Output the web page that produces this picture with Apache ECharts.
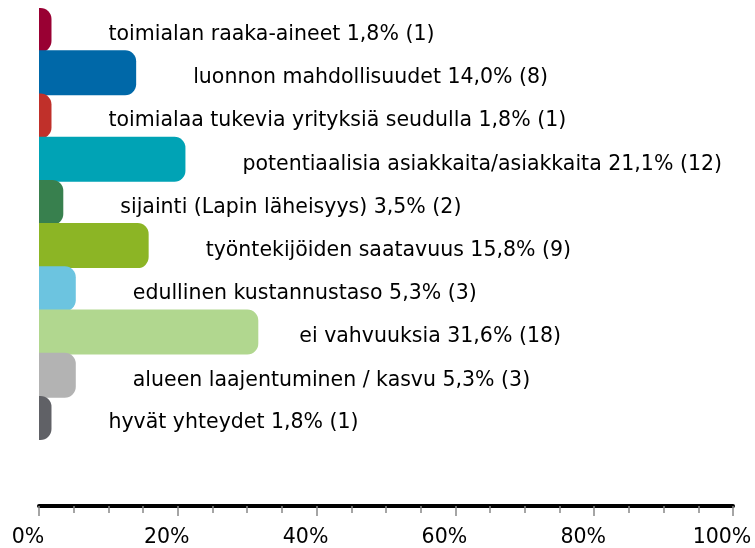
<!DOCTYPE html>
<html>
<head>
<meta charset="utf-8">
<script src="https://cdn.jsdelivr.net/npm/echarts@6/dist/echarts.min.js"></script>
<style>
  html, body { margin: 0; padding: 0; background: #fff; }
  #chart { width: 755px; height: 548px; }
</style>
</head>
<body>
<div id="chart"></div>
<script>
const categories = [
  'toimialan raaka-aineet',
  'luonnon mahdollisuudet',
  'toimialaa tukevia yrityksiä seudulla',
  'potentiaalisia asiakkaita/asiakkaita',
  'sijainti (Lapin läheisyys)',
  'työntekijöiden saatavuus',
  'edullinen kustannustaso',
  'ei vahvuuksia',
  'alueen laajentuminen / kasvu',
  'hyvät yhteydet'
];
const percents = [1.8, 14.0, 1.8, 21.1, 3.5, 15.8, 5.3, 31.6, 5.3, 1.8];
const counts = [1, 8, 1, 12, 2, 9, 3, 18, 3, 1];
const colors = ['#990033', '#0068a8', '#c0302a', '#00a3b5', '#38804e', '#8cb525', '#6cc4e0', '#b1d78f', '#b3b3b3', '#606166'];
const xTicks = [0, 20, 40, 60, 80, 100];

var dom = document.getElementById('chart');
var myChart = echarts.init(dom);

const barData = percents.map(function (v, i) {
  return {
    value: v,
    itemStyle: { color: colors[i] },
    label: { distance: i === 7 ? 41 : 57 }
  };
});

const option = {
  animation: false,
  grid: { left: 39, right: 22, top: 8, bottom: 108 },
  xAxis: {
    type: 'value',
    min: xTicks[0],
    max: xTicks[xTicks.length - 1],
    interval: 20,
    offset: 66,
    axisLine: { show: true, lineStyle: { color: '#000', width: 4 } },
    axisTick: { show: true, length: 10, lineStyle: { color: '#888', width: 1.5 } },
    minorTick: { show: true, splitNumber: 4, length: 7, lineStyle: { color: '#888', width: 1.5 } },
    splitLine: { show: false },
    axisLabel: {
      formatter: '{value}%',
      color: '#000',
      fontFamily: 'DejaVu Sans',
      fontSize: 20.5,
      margin: 21,
      padding: [0, 22, 0, 0]
    }
  },
  yAxis: {
    type: 'category',
    data: categories,
    inverse: true,
    axisLine: { show: false },
    axisTick: { show: false },
    axisLabel: { show: false }
  },
  series: [
    {
      type: 'bar',
      data: barData,
      barWidth: 45,
      itemStyle: { borderRadius: [0, 11, 11, 0] },
      label: {
        show: true,
        position: 'right',
        color: '#000',
        fontFamily: 'DejaVu Sans',
        fontSize: 20.5,
        offset: [0, 5],
        formatter: function (p) {
          return categories[p.dataIndex] + ' ' + percents[p.dataIndex].toFixed(1).replace('.', ',') + '% (' + counts[p.dataIndex] + ')';
        }
      }
    }
  ]
};
myChart.setOption(option);
</script>
</body>
</html>
